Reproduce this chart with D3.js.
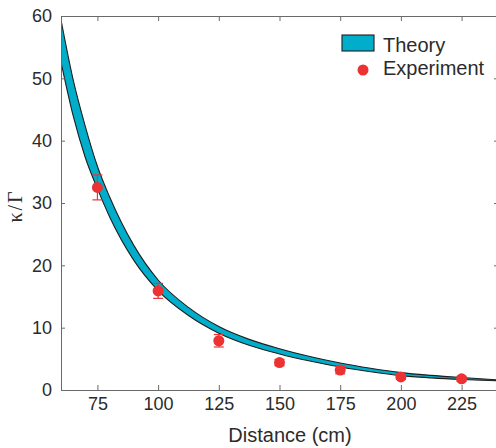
<!DOCTYPE html>
<html>
<head>
<meta charset="utf-8">
<script src="https://cdn.jsdelivr.net/npm/d3@7"></script>
<style>
    html, body { margin: 0; padding: 0; background: #fff; }
    svg { display: block; font-family: "Liberation Sans", Arial, sans-serif; }
</style>
</head>
<body>
<svg id="chart" width="496" height="448"></svg>
<script>
// ---- data ----
const xTicks = [75, 100, 125, 150, 175, 200, 225];
const yTicks = [0, 10, 20, 30, 40, 50, 60];

// theory band (upper / lower edge) sampled along distance
const theoryX     = [60, 65, 70, 75, 80, 90, 100, 112.5, 125, 137.5, 150, 162.5, 175, 187.5, 200, 212.5, 225, 240];
const theoryUpper = [59.4, 49.8, 42.3, 35.9, 31.0, 23.2, 17.65, 13.25, 10.18, 8.12, 6.62, 5.36, 4.32, 3.48, 2.79, 2.35, 2.01, 1.63];
const theoryLower = [52.6, 44.0, 37.3, 32.3, 27.8, 20.8, 15.95, 11.95, 9.12, 7.18, 5.78, 4.64, 3.68, 2.92, 2.31, 1.95, 1.69, 1.47];

// experiment
const expX   = [75, 100, 125, 150, 175, 200, 225];
const expY   = [32.5, 15.9, 7.9, 4.4, 3.2, 2.1, 1.8];
const expErr = [2.0, 1.2, 1.0, 0.5, 0.6, 0.4, 0.4];

const legendLabels = ['Theory', 'Experiment'];

// ---- layout ----
const svg = d3.select('#chart');
const mLeft = 61, mRight = 498, mTop = 16, mBottom = 390;

const x = d3.scaleLinear().domain([60, 240]).range([mLeft, mRight]);
const y = d3.scaleLinear().domain([0, 60]).range([mBottom, mTop]);

const cyan = '#00aecb';
const red = '#ec3232';
const axisGrey = '#6a6a6a';
const textCol = '#2b2b2b';

svg.append('defs').append('clipPath').attr('id', 'plot-clip')
    .append('rect')
    .attr('x', mLeft).attr('y', mTop)
    .attr('width', mRight - mLeft).attr('height', mBottom - mTop);

// Theory band
const band = theoryX.map((d, i) => ({ x: d, hi: theoryUpper[i], lo: theoryLower[i] }));
const area = d3.area()
    .x(d => x(d.x))
    .y0(d => y(d.lo))
    .y1(d => y(d.hi))
    .curve(d3.curveMonotoneX);

svg.append('path')
    .datum(band)
    .attr('clip-path', 'url(#plot-clip)')
    .attr('d', area)
    .attr('fill', cyan)
    .attr('stroke', '#1e1e1e')
    .attr('stroke-width', 1.1)
    .attr('stroke-linejoin', 'round');

// Axes
function styleAxis(g) {
    g.select('.domain').attr('stroke', axisGrey).attr('stroke-width', 1);
    g.selectAll('.tick line').attr('stroke', axisGrey).attr('stroke-width', 1);
    g.selectAll('.tick text').attr('fill', textCol).style('font-size', '18px')
        .style('font-family', '"Liberation Sans", Arial, sans-serif');
}

svg.append('g')
    .attr('transform', `translate(0,${mBottom})`)
    .call(d3.axisBottom(x).tickValues(xTicks).tickSizeInner(-5).tickSizeOuter(0).tickPadding(7))
    .call(styleAxis);

svg.append('g')
    .attr('transform', `translate(0,${mTop})`)
    .call(d3.axisTop(x).tickValues(xTicks).tickSizeInner(-5).tickSizeOuter(0).tickFormat(''))
    .call(styleAxis);

svg.append('g')
    .attr('transform', `translate(${mLeft},0)`)
    .call(d3.axisLeft(y).tickValues(yTicks).tickSizeInner(-4).tickSizeOuter(0).tickPadding(9))
    .call(styleAxis);

svg.append('g')
    .attr('transform', `translate(${mRight},0)`)
    .call(d3.axisRight(y).tickValues(yTicks).tickSizeInner(-4).tickSizeOuter(0).tickFormat(''))
    .call(styleAxis);

// Experiment points with error bars
const pts = expX.map((d, i) => ({ x: d, y: expY[i], e: expErr[i] }));
const pg = svg.append('g').attr('clip-path', 'url(#plot-clip)');

const eb = pg.selectAll('g.err')
    .data(pts)
    .join('g')
    .attr('class', 'err')
    .attr('stroke', red)
    .attr('stroke-width', 1.2);

eb.append('line')
    .attr('x1', d => x(d.x)).attr('x2', d => x(d.x))
    .attr('y1', d => y(d.y - d.e)).attr('y2', d => y(d.y + d.e));
eb.append('line')
    .attr('x1', d => x(d.x) - 5).attr('x2', d => x(d.x) + 5)
    .attr('y1', d => y(d.y + d.e)).attr('y2', d => y(d.y + d.e));
eb.append('line')
    .attr('x1', d => x(d.x) - 5).attr('x2', d => x(d.x) + 5)
    .attr('y1', d => y(d.y - d.e)).attr('y2', d => y(d.y - d.e));

pg.selectAll('circle.pt')
    .data(pts)
    .join('circle')
    .attr('class', 'pt')
    .attr('cx', d => x(d.x))
    .attr('cy', d => y(d.y))
    .attr('r', 5.5)
    .attr('fill', red);

// Axis titles
svg.append('text')
    .attr('x', 290)
    .attr('y', 442)
    .attr('text-anchor', 'middle')
    .attr('fill', textCol)
    .style('font-size', '20px')
    .text('Distance (cm)');

svg.append('text')
    .attr('transform', 'translate(22,206) rotate(-90)')
    .attr('text-anchor', 'middle')
    .attr('fill', textCol)
    .style('font-size', '20px')
    .style('font-family', '"Liberation Serif", "DejaVu Serif", serif')
    .style('letter-spacing', '2px')
    .text('κ/Γ');

// Legend
const lg = svg.append('g');
lg.append('rect')
    .attr('x', 342).attr('y', 35)
    .attr('width', 32).attr('height', 16)
    .attr('fill', cyan)
    .attr('stroke', '#1e1e1e')
    .attr('stroke-width', 1.1);
lg.append('circle')
    .attr('cx', 363).attr('cy', 70)
    .attr('r', 5.5)
    .attr('fill', red);
lg.selectAll('text')
    .data(legendLabels)
    .join('text')
    .attr('x', 383)
    .attr('y', (d, i) => 52 + i * 23)
    .attr('fill', textCol)
    .style('font-size', '20px')
    .text(d => d);
</script>
</body>
</html>
